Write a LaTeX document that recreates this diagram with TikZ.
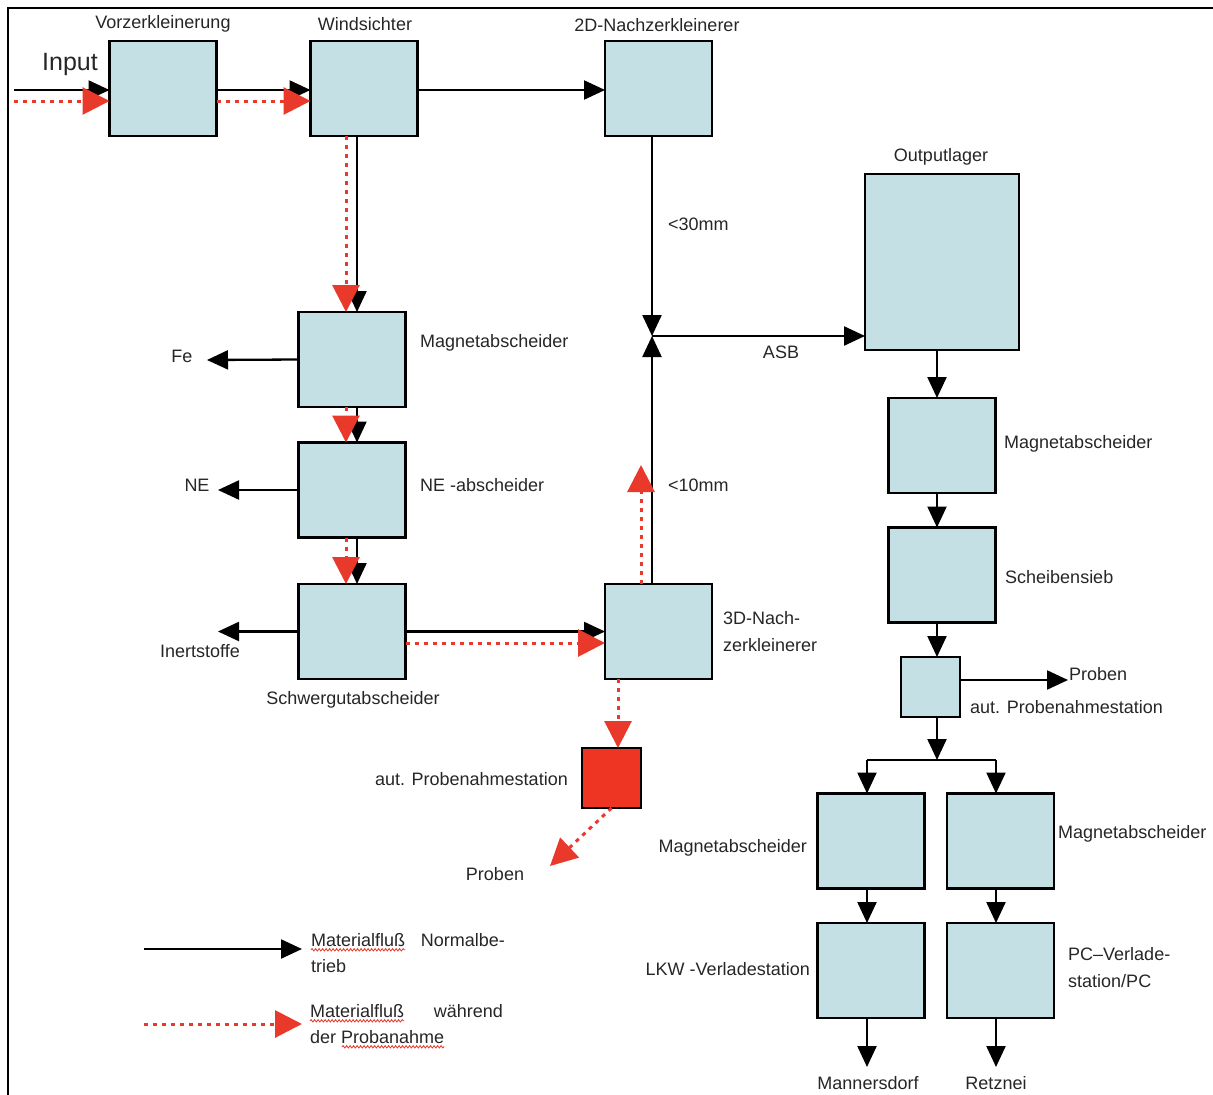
\documentclass[tikz,border=0pt]{standalone}
\usepackage{fontspec}
\setmainfont{Liberation Sans}
\usetikzlibrary{arrows.meta,decorations.pathmorphing}
\definecolor{boxfill}{HTML}{C4E0E4}
\definecolor{flowred}{HTML}{E8392A}
\definecolor{samplebox}{HTML}{EE3524}

\begin{document}
\begin{tikzpicture}[x=1pt,y=-1pt,
  unit/.style={draw=black, line width=2.5pt, fill=boxfill, inner sep=0pt, outer sep=0pt,
               minimum width=107pt, minimum height=95pt},
  lbl/.style={inner sep=0pt, text=black!85, font=\fontsize{18}{21}\selectfont},
  flow/.style={line width=2.3pt, -{Triangle[length=21pt,width=19pt]}},
  sample/.style={draw=flowred, line width=3pt, dash pattern=on 4pt off 5pt,
                 -{Triangle[length=27pt,width=27pt,fill=flowred]}},
  squiggle/.style={draw=flowred, line width=0.8pt,
                   decorate, decoration={snake, amplitude=1.2pt, segment length=3.5pt}}]
\useasboundingbox (0,0) rectangle (1213,1095);

% frame
\draw[line width=2pt] (1213,8) -- (8,8) -- (8,1095);

% process units
\node[unit] (vz)  at (163,88.5)  {};
\node[unit] (ws)  at (364,88.5)  {};
\node[unit] (nz2) at (658.5,88.5) {};
\node[unit] (mg)  at (352,359.5) {};
\node[unit] (ne)  at (352,490)   {};
\node[unit] (sg)  at (352,631.5) {};
\node[unit] (nz3) at (658.5,631.5) {};
\node[unit, fill=samplebox, minimum width=59pt, minimum height=60pt] (rb) at (611.5,778) {};
\node[unit, minimum width=154pt, minimum height=176pt] (ol) at (942,262) {};
\node[unit] (m2)  at (942,445.5) {};
\node[unit] (sb)  at (942,575)   {};
\node[unit, minimum width=59pt, minimum height=60pt] (pr) at (930.5,687) {};
\node[unit] (ma)  at (871,841)   {};
\node[unit] (mb)  at (1000.5,841) {};
\node[unit] (lk)  at (871,970.5) {};
\node[unit] (pc)  at (1000.5,970.5) {};

% labels
\node[lbl, font=\fontsize{25}{30}\selectfont] (tin) at (70,64) {Input};
\node[lbl] (tvz)  at (163,24) {Vorzerkleinerung};
\node[lbl] (tws)  at (365,24) {Windsichter};
\node[lbl] (tnz2) at (657,25) {2D-Nachzerkleinerer};
\node[lbl, anchor=west] (tmg) at (420,343) {Magnetabscheider};
\node[lbl] (tfe)  at (182,356) {Fe};
\node[lbl] (tne)  at (197,485) {NE};
\node[lbl, anchor=west] (tnea) at (420,485) {NE -abscheider};
\node[lbl] (tin2) at (200,651) {Inertstoffe};
\node[lbl] (tsg)  at (353,700) {Schwergutabscheider};
\node[lbl, anchor=west] (t30) at (668,224) {<30mm};
\node[lbl, anchor=west] (t10) at (668,485) {<10mm};
\node[lbl] (tasb) at (781,352) {ASB};
\node[lbl, anchor=west] (tnz3a) at (723,618) {3D-Nach-};
\node[lbl, anchor=west] (tnz3b) at (723,645) {zerkleinerer};
\node[lbl, anchor=east] (trb) at (568,779) {aut. Probenahmestation};
\node[lbl] (tprl) at (495,874) {Proben};
\node[lbl] (tol)  at (941,157) {Outputlager};
\node[lbl, anchor=west] (tm2) at (1004,444) {Magnetabscheider};
\node[lbl, anchor=west] (tsb) at (1005,577) {Scheibensieb};
\node[lbl, anchor=west] (tprr) at (1069,674) {Proben};
\node[lbl, anchor=west] (tpr) at (970,707) {aut. Probenahmestation};
\node[lbl, anchor=east] (tma) at (807,848) {Magnetabscheider};
\node[lbl, anchor=west] (tmb) at (1058,834) {Magnetabscheider};
\node[lbl, anchor=east] (tlk) at (810,969) {LKW -Verladestation};
\node[lbl, anchor=west] (tpca) at (1068,954) {PC–Verlade-};
\node[lbl, anchor=west] (tpcb) at (1068,981) {station/PC};
\node[lbl] (tman) at (868,1083) {Mannersdorf};
\node[lbl] (tret) at (996,1083) {Retznei};

% free ends and junctions
\coordinate (in)   at (14,90);
\coordinate (inr)  at (14,101);
\coordinate (fe)   at (207,360);
\coordinate (nee)  at (218,490);
\coordinate (ine)  at (218,631.5);
\coordinate (j)    at (652,336);
\coordinate (s10)  at (641,465);
\coordinate (col)  at (937,0);
\coordinate (prb)  at (1068,680);
\coordinate (split) at (937,760);
\coordinate (cl)   at (867,0);
\coordinate (cr)   at (996,0);
\coordinate (rcol) at (618,0);
\coordinate (pend) at (550,866);
\coordinate (man)  at (867,1067);
\coordinate (ret)  at (996,1067);

% normal material flow
\draw[flow] (in) -- ([yshift=-1.5pt]vz.west);
\draw[flow] ([yshift=-1.5pt]vz.east) -- ([yshift=-1.5pt]ws.west);
\draw[flow] ([yshift=-1.5pt]ws.east) -- ([yshift=-1.5pt]nz2.west);
\draw[flow] ([xshift=5pt]mg.north |- ws.south) -- ([xshift=5pt]mg.north);
\draw[flow] ([xshift=5pt]mg.south) -- ([xshift=5pt]ne.north);
\draw[flow] ([xshift=5pt]ne.south) -- ([xshift=5pt]sg.north);
\draw[flow] (mg.west) -- (fe);
\draw[flow] (ne.west) -- (nee);
\draw[flow] (sg.west) -- (ine);
\draw[flow] (sg.east) -- (nz3.west);
\draw[flow] (nz2.south -| j) -- (j);
\draw[flow] (nz3.north -| j) -- (j);
\draw[flow] (j) -- (j -| ol.west);
\draw[flow] (ol.south -| col) -- (m2.north -| col);
\draw[flow] (m2.south -| col) -- (sb.north -| col);
\draw[flow] (sb.south -| col) -- (pr.north -| col);
\draw[flow] (pr.east |- prb) -- (prb);
\draw[flow] (pr.south -| col) -- (split);
\draw[line width=2.3pt] (split -| cl) -- (split -| cr);
\draw[flow] (split -| cl) -- (ma.north -| cl);
\draw[flow] (split -| cr) -- (mb.north -| cr);
\draw[flow] (ma.south -| cl) -- (lk.north -| cl);
\draw[flow] (mb.south -| cr) -- (pc.north -| cr);
\draw[flow] (lk.south -| cl) -- (man);
\draw[flow] (pc.south -| cr) -- (ret);

% material flow while sampling
\draw[sample] (inr) -- ([yshift=-12.5pt]vz.west);
\draw[sample] ([yshift=-12.5pt]vz.east) -- ([yshift=-12.5pt]ws.west);
\draw[sample] ([xshift=-6pt]mg.north |- ws.south) -- ([xshift=-6pt]mg.north);
\draw[sample] ([xshift=-6pt]mg.south) -- ([xshift=-6pt]ne.north);
\draw[sample] ([xshift=-6pt]ne.south) -- ([xshift=-6pt]sg.north);
\draw[sample] ([yshift=-11.5pt]sg.east) -- ([yshift=-11.5pt]nz3.west);
\draw[sample] (nz3.north -| s10) -- (s10);
\draw[sample] (nz3.south -| rcol) -- (rb.north -| rcol);
\draw[sample] (rb.south) -- (pend);

% legend
\coordinate (lga) at (144,949);
\coordinate (lgb) at (302,949);
\coordinate (lgc) at (144,1024);
\coordinate (lgd) at (302,1024);
\draw[flow] (lga) -- (lgb);
\draw[sample] (lgc) -- (lgd);
\node[lbl, anchor=west] (l1a) at (311,940) {Materialfluß};
\node[lbl, anchor=east] (l1b) at (505,940) {Normalbe-};
\node[lbl, anchor=west] (l1c) at (311,966) {trieb};
\node[lbl, anchor=west] (l2a) at (310,1011) {Materialfluß};
\node[lbl, anchor=east] (l2b) at (503,1011) {während};
\node[lbl, anchor=west] (l2c) at (310,1037) {der Probanahme};
\draw[squiggle] ([yshift=-3pt]l1a.south west) -- ([yshift=-3pt]l1a.south east);
\draw[squiggle] ([yshift=-3pt]l2a.south west) -- ([yshift=-3pt]l2a.south east);
\draw[squiggle] ([xshift=32pt,yshift=-3pt]l2c.south west) -- ([yshift=-3pt]l2c.south east);
\end{tikzpicture}
\end{document}
